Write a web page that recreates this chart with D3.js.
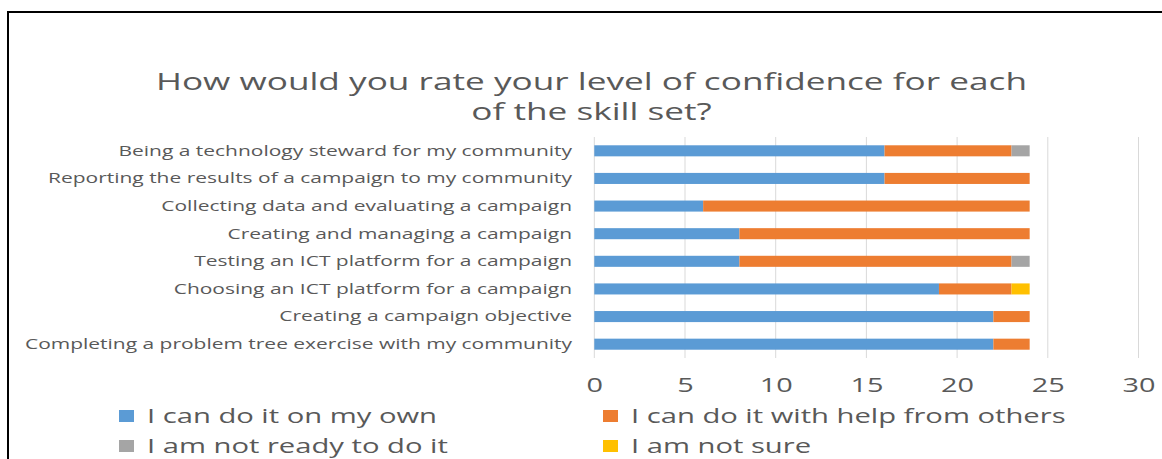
<script src='https://d3js.org/d3.v7.min.js'></script>
<style>
  body { margin: 0; background: #fff; }
  text { font-family: 'Open Sans', sans-serif; fill: #595959; }
</style>
<body>
<script>
// Set Dimensions
const width  = 1162;
const height = 459;

// Chart data
const categories = [
  "Being a technology steward for my community",
  "Reporting the results of a campaign to my community",
  "Collecting data and evaluating a campaign",
  "Creating and managing a campaign",
  "Testing an ICT platform for a campaign",
  "Choosing an ICT platform for a campaign",
  "Creating a campaign objective",
  "Completing a problem tree exercise with my community"
];
const seriesNames    = ["I can do it on my own", "I can do it with help from others", "I am not ready to do it", "I am not sure"];
const ownValues      = [16, 16, 6, 8, 8, 19, 22, 22];
const helpValues     = [7, 8, 18, 16, 15, 4, 2, 2];
const notReadyValues = [1, 0, 0, 0, 1, 0, 0, 0];
const notSureValues  = [0, 0, 0, 0, 0, 1, 0, 0];
const xTicks         = [0, 5, 10, 15, 20, 25, 30];
const titleLines     = ["How would you rate your level of confidence for each", "of the skill set?"];

const colors = ["#5B9BD5", "#ED7D31", "#A5A5A5", "#FFC000"];

// build rows for the stack
const rows = categories.map((c, i) => ({
  cat: c,
  [seriesNames[0]]: ownValues[i],
  [seriesNames[1]]: helpValues[i],
  [seriesNames[2]]: notReadyValues[i],
  [seriesNames[3]]: notSureValues[i]
}));
const stacked = d3.stack().keys(seriesNames)(rows);

const svg = d3.select("body")
  .append("svg")
  .attr("width", width)
  .attr("height", height);

svg.append("rect").attr("width", width).attr("height", height).attr("fill", "#fff");

// outer frame
svg.append("rect")
  .attr("x", 8).attr("y", 12)
  .attr("width", width).attr("height", height)
  .attr("fill", "none").attr("stroke", "#000").attr("stroke-width", 2);

// stretch text horizontally by a common factor (source image is wide)
function stretch(sel, factor) {
  sel.each(function() {
    const w = this.getComputedTextLength();
    d3.select(this).attr("textLength", w * factor).attr("lengthAdjust", "spacingAndGlyphs");
  });
}
function factorFor(sel, target) {
  return target / sel.node().getComputedTextLength();
}

// Scales
const x = d3.scaleLinear().domain([0, 30]).range([594.3, 1138.5]);
const y = d3.scaleBand().domain(categories).range([137, 358]).paddingInner(0.6).paddingOuter(0.3);

// gridlines
svg.append("g")
  .selectAll("line")
  .data(xTicks)
  .join("line")
  .attr("x1", d => x(d)).attr("x2", d => x(d))
  .attr("y1", 137).attr("y2", 358)
  .attr("stroke", "#D9D9D9").attr("stroke-width", 1);

// bars
svg.append("g")
  .selectAll("g")
  .data(stacked)
  .join("g")
  .attr("fill", (d, i) => colors[i])
  .selectAll("rect")
  .data(d => d)
  .join("rect")
  .attr("x", d => x(d[0]))
  .attr("y", d => y(d.data.cat))
  .attr("width", d => x(d[1]) - x(d[0]))
  .attr("height", y.bandwidth());

// x axis labels
const xAxis = svg.append("g")
  .attr("transform", "translate(0,392)")
  .call(d3.axisBottom(x).tickValues(xTicks).tickSize(0).tickPadding(0));
xAxis.select(".domain").remove();
xAxis.selectAll("text")
  .attr("dy", 0)
  .style("font-size", "20px")
  .style("font-family", "'Open Sans', sans-serif")
  .attr("fill", "#595959");
const tickTexts = xAxis.selectAll("text");
const tf = factorFor(tickTexts.filter(d => d === 30), 33);
stretch(tickTexts, tf);

// category labels
const yAxis = svg.append("g")
  .attr("transform", "translate(572,0)")
  .call(d3.axisLeft(y).tickSize(0).tickPadding(0));
yAxis.select(".domain").remove();
yAxis.selectAll("text")
  .style("font-size", "14px")
  .style("font-family", "'Open Sans', sans-serif")
  .attr("fill", "#595959")
  .attr("dy", "0.35em");
const catTexts = yAxis.selectAll("text");
const cf = factorFor(catTexts.filter(d => d === categories[7]), 547);
stretch(catTexts, cf);

// title
const title = svg.append("g").selectAll("text")
  .data(titleLines)
  .join("text")
  .attr("x", 591.5)
  .attr("y", (d, i) => 90 + i * 30)
  .attr("text-anchor", "middle")
  .style("font-size", "24px")
  .text(d => d);
const ttf = factorFor(title.filter((d, i) => i === 0), 871);
stretch(title, ttf);

// legend
const legendPos = [[119, 416], [603, 416], [119, 446], [603, 446]];
const legend = svg.append("g").selectAll("g")
  .data(seriesNames)
  .join("g")
  .attr("transform", (d, i) => `translate(${legendPos[i][0]},${legendPos[i][1]})`);
legend.append("rect")
  .attr("x", 0).attr("y", -6)
  .attr("width", 15).attr("height", 12)
  .attr("fill", (d, i) => colors[i]);
const legTexts = legend.append("text")
  .attr("x", 28).attr("y", 7)
  .style("font-size", "20px")
  .text(d => d);
const lf = factorFor(legTexts.filter((d, i) => i === 0), 290);
stretch(legTexts, lf);
</script>
</body>
